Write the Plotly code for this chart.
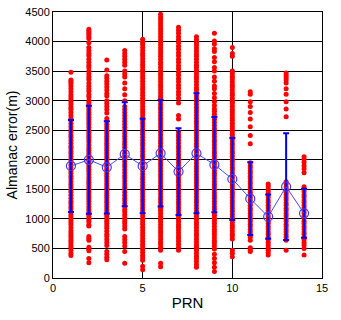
import plotly.graph_objects as go

PRNS = [1, 2, 3, 4, 5, 6, 7, 8, 9, 10, 11, 12, 13, 14]

MEAN_ERR = [1895, 2000, 1873, 2095, 1895, 2110, 1800, 2110, 1917, 1675, 1342, 1037, 1545, 1094]
STD_ERR = [780, 915, 780, 880, 800, 900, 735, 1016, 806, 694, 615, 375, 902, 415]

ERR_PRN1 = [3480, 3350, 3320, 3290, 3250, 3200, 3150, 3100, 3060, 3020, 2980, 2940, 2890, 2850, 2800,
            2750, 2700, 2660, 2610, 2560, 2510, 2470, 2420, 2380, 2330, 2280, 2230, 2190, 2140, 2100,
            2050, 2000, 1960, 1910, 1860, 1810, 1770, 1720, 1680, 1630, 1580, 1540, 1490, 1450, 1400,
            1350, 1300, 1260, 1210, 1170, 1120, 1070, 1030, 980, 940, 900, 850, 800, 760, 720, 680,
            640, 600, 560, 520, 470, 420, 380]
ERR_PRN2 = [4210, 4180, 4150, 4120, 4080, 4050, 3980, 3900, 3850, 3800, 3760, 3700, 3650, 3600, 3560,
            3500, 3450, 3400, 3360, 3300, 3250, 3200, 3160, 3100, 3060, 3000, 2960, 2920, 2880, 2840,
            2800, 2760, 2720, 2680, 2640, 2600, 2550, 2500, 2460, 2420, 2380, 2340, 2300, 2250, 2200,
            2160, 2120, 2080, 2040, 2000, 1960, 1920, 1880, 1840, 1800, 1750, 1700, 1660, 1620, 1580,
            1540, 1500, 1460, 1420, 1380, 1340, 1300, 1250, 1200, 1160, 1120, 1080, 1040, 990, 950,
            900, 880, 700, 670, 640, 520, 490, 460, 330, 260]
ERR_PRN3 = [3690, 3520, 3420, 3380, 3330, 3280, 3230, 3180, 3120, 3080, 3000, 2950, 2900, 2850, 2790,
            2700, 2650, 2600, 2560, 2520, 2480, 2440, 2400, 2360, 2320, 2280, 2240, 2200, 2160, 2120,
            2080, 2040, 2000, 1960, 1920, 1880, 1840, 1800, 1760, 1720, 1680, 1640, 1600, 1560, 1520,
            1480, 1440, 1400, 1360, 1320, 1280, 1240, 1200, 1160, 1120, 1080, 1040, 1000, 960, 920,
            880, 840, 790, 740, 700, 650, 600, 550, 450, 400, 350, 310]
ERR_PRN4 = [3850, 3800, 3750, 3700, 3650, 3600, 3500, 3450, 3400, 3300, 3200, 3100, 3000, 2900, 2850,
            2800, 2750, 2700, 2650, 2600, 2550, 2500, 2450, 2400, 2350, 2300, 2260, 2210, 2160, 2110,
            2070, 2020, 1970, 1920, 1880, 1830, 1780, 1730, 1690, 1640, 1590, 1540, 1500, 1450, 1400,
            1350, 1310, 1260, 1210, 1160, 1120, 1070, 1020, 970, 930, 880, 830, 700, 650, 600, 540,
            450, 250]
ERR_PRN5 = [4040, 3990, 3950, 3900, 3850, 3800, 3760, 3710, 3660, 3610, 3570, 3520, 3470, 3420, 3380,
            3330, 3280, 3230, 3190, 3140, 3090, 3040, 3000, 2950, 2900, 2850, 2810, 2760, 2710, 2660,
            2620, 2570, 2520, 2470, 2430, 2380, 2330, 2280, 2240, 2190, 2140, 2090, 2050, 2000, 1950,
            1900, 1860, 1810, 1760, 1710, 1670, 1620, 1570, 1520, 1480, 1430, 1380, 1330, 1290, 1240,
            1190, 1140, 1100, 1050, 1000, 950, 910, 860, 810, 760, 720, 670, 620, 570, 530, 480, 430,
            380, 340, 300, 200, 140]
ERR_PRN6 = [4460, 4410, 4370, 4320, 4270, 4220, 4180, 4130, 4080, 4030, 3990, 3940, 3890, 3840, 3800,
            3750, 3700, 3650, 3610, 3560, 3510, 3460, 3420, 3370, 3320, 3270, 3230, 3180, 3130, 3080,
            3040, 2990, 2940, 2890, 2850, 2800, 2750, 2700, 2660, 2610, 2560, 2510, 2470, 2420, 2370,
            2320, 2280, 2230, 2180, 2130, 2090, 2040, 1990, 1940, 1900, 1850, 1800, 1750, 1710, 1660,
            1610, 1560, 1520, 1470, 1420, 1370, 1330, 1280, 1230, 1180, 1140, 1090, 1040, 990, 950,
            900, 850, 800, 760, 710, 660, 610, 570, 520, 470, 250, 190]
ERR_PRN7 = [4240, 4190, 4140, 4080, 4030, 3980, 3920, 3870, 3810, 3760, 3700, 3650, 3590, 3540, 3480,
            3430, 3370, 3320, 3260, 3210, 3150, 3100, 3040, 2960, 2750, 2690, 2470, 2420, 2380, 2330,
            2280, 2230, 2190, 2140, 2090, 2040, 2000, 1950, 1900, 1850, 1810, 1760, 1710, 1660, 1620,
            1570, 1520, 1470, 1430, 1380, 1330, 1280, 1240, 1190, 1140, 1090, 1050, 1000, 950, 900,
            860, 810, 760, 710, 670, 620, 570, 520, 470]
ERR_PRN8 = [4080, 4030, 3980, 3940, 3890, 3840, 3790, 3750, 3700, 3650, 3600, 3560, 3510, 3460, 3410,
            3370, 3320, 3270, 3220, 3180, 3130, 3080, 3030, 2990, 2940, 2890, 2840, 2800, 2750, 2700,
            2650, 2610, 2560, 2510, 2460, 2420, 2370, 2320, 2270, 2230, 2180, 2130, 2080, 2040, 1990,
            1940, 1890, 1850, 1800, 1750, 1700, 1660, 1610, 1560, 1510, 1470, 1420, 1370, 1320, 1280,
            1230, 1180, 1130, 1090, 1040, 990, 940, 900, 850, 800, 750, 710, 660, 610, 560, 520, 470,
            420, 370, 330, 280, 230, 180]
ERR_PRN9 = [4140, 4010, 3960, 3880, 3830, 3730, 3660, 3560, 3500, 3400, 3330, 3250, 3200, 3120, 3050,
            2980, 2920, 2860, 2820, 2770, 2720, 2680, 2630, 2580, 2530, 2490, 2440, 2390, 2340, 2300,
            2250, 2200, 2150, 2110, 2060, 2010, 1960, 1920, 1870, 1820, 1770, 1730, 1680, 1630, 1580,
            1540, 1490, 1440, 1390, 1350, 1300, 1250, 1200, 1160, 1110, 1060, 1010, 970, 920, 870,
            820, 780, 730, 680, 630, 590, 540, 490, 400, 330, 260, 180, 110]
ERR_PRN10 = [3900, 3800, 3750, 3500, 3460, 3410, 3370, 3320, 3270, 3230, 3180, 3130, 3090, 3040, 2990,
             2950, 2900, 2850, 2810, 2760, 2710, 2670, 2620, 2570, 2530, 2480, 2430, 2390, 2340, 2290,
             2250, 2200, 2150, 2110, 2060, 2010, 1970, 1920, 1870, 1830, 1780, 1730, 1690, 1640, 1590,
             1550, 1500, 1450, 1410, 1360, 1310, 1270, 1220, 1170, 1130, 1080, 1030, 990, 940, 890,
             850, 800, 750, 710, 660, 470, 420, 360]
ERR_PRN11 = [3150, 3110, 2980, 2900, 2800, 2690, 2560, 2410, 2270, 1950, 1900, 1860, 1810, 1770, 1720,
             1680, 1630, 1590, 1540, 1500, 1450, 1410, 1360, 1320, 1270, 1230, 1180, 1140, 1090, 1050,
             1000, 960, 910, 870, 820, 780, 730, 690, 640, 510, 470, 450]
ERR_PRN12 = [1590, 1550, 1500, 1460, 1410, 1370, 1320, 1280, 1230, 1190, 1140, 1100, 1050, 1010, 960,
             920, 870, 830, 780, 740, 690, 650, 600, 560, 510, 470, 430, 390]
ERR_PRN13 = [3470, 3430, 3390, 3350, 3300, 3200, 3110, 2980, 2860, 2730, 1630, 1590, 1540, 1500, 1450,
             1410, 1360, 1320, 1270, 1230, 1180, 1140, 1090, 1050, 1000, 960, 910, 870, 820, 780, 730,
             690, 640, 470]
ERR_PRN14 = [2050, 2010, 1960, 1900, 1850, 1780, 1545, 1500, 1460, 1410, 1370, 1320, 1280, 1230, 1190,
             1140, 1100, 1050, 1010, 960, 920, 870, 830, 780, 740, 690, 650, 600, 560, 500, 390]

ERR_LISTS = [ERR_PRN1, ERR_PRN2, ERR_PRN3, ERR_PRN4, ERR_PRN5, ERR_PRN6, ERR_PRN7,
             ERR_PRN8, ERR_PRN9, ERR_PRN10, ERR_PRN11, ERR_PRN12, ERR_PRN13, ERR_PRN14]

X_TICKS = [0, 5, 10, 15]
Y_TICKS = [0, 500, 1000, 1500, 2000, 2500, 3000, 3500, 4000, 4500]

xs, ys = [], []
for prn, vals in zip(PRNS, ERR_LISTS):
    xs += [prn] * len(vals)
    ys += vals

fig = go.Figure()
fig.add_trace(go.Scatter(
    x=xs, y=ys, mode="markers",
    marker=dict(color="#ff0000", size=5, line=dict(width=0)),
    showlegend=False, hoverinfo="skip"))
fig.add_trace(go.Scatter(
    x=PRNS, y=MEAN_ERR, mode="lines+markers",
    line=dict(color="#4a4aff", width=1),
    marker=dict(symbol="circle-open", size=9, color="#3a3aff", line=dict(width=1.2)),
    error_y=dict(type="data", array=STD_ERR, visible=True, color="#0000ff",
                 thickness=2, width=3),
    showlegend=False))

font = "Liberation Sans, Arial, sans-serif"
fig.update_layout(
    width=341, height=320,
    margin=dict(l=53, r=19, t=12, b=42),
    paper_bgcolor="white", plot_bgcolor="white",
    font=dict(family=font, color="black", size=11),
)
fig.update_xaxes(
    range=[0, 15], tickvals=X_TICKS, ticktext=[str(v) for v in X_TICKS],
    showgrid=True, gridcolor="black", gridwidth=1, automargin=False,
    showline=True, linecolor="black", linewidth=1, mirror="ticks",
    ticks="inside", ticklen=3, tickcolor="black", zeroline=False,
    title=dict(text="PRN", font=dict(size=15), standoff=4),
    tickfont=dict(size=11),
)
fig.update_yaxes(
    range=[0, 4500], tickvals=Y_TICKS, ticktext=[str(v) for v in Y_TICKS],
    showgrid=True, gridcolor="black", gridwidth=1, automargin=False,
    showline=True, linecolor="black", linewidth=1, mirror="ticks",
    ticks="inside", ticklen=3, tickcolor="black", zeroline=False,
    title=dict(text="Almanac error(m)", font=dict(size=14), standoff=4),
    tickfont=dict(size=11),
)
fig.write_html("out.html", config={"displayModeBar": False},
               post_script="document.body.style.margin='0';")
